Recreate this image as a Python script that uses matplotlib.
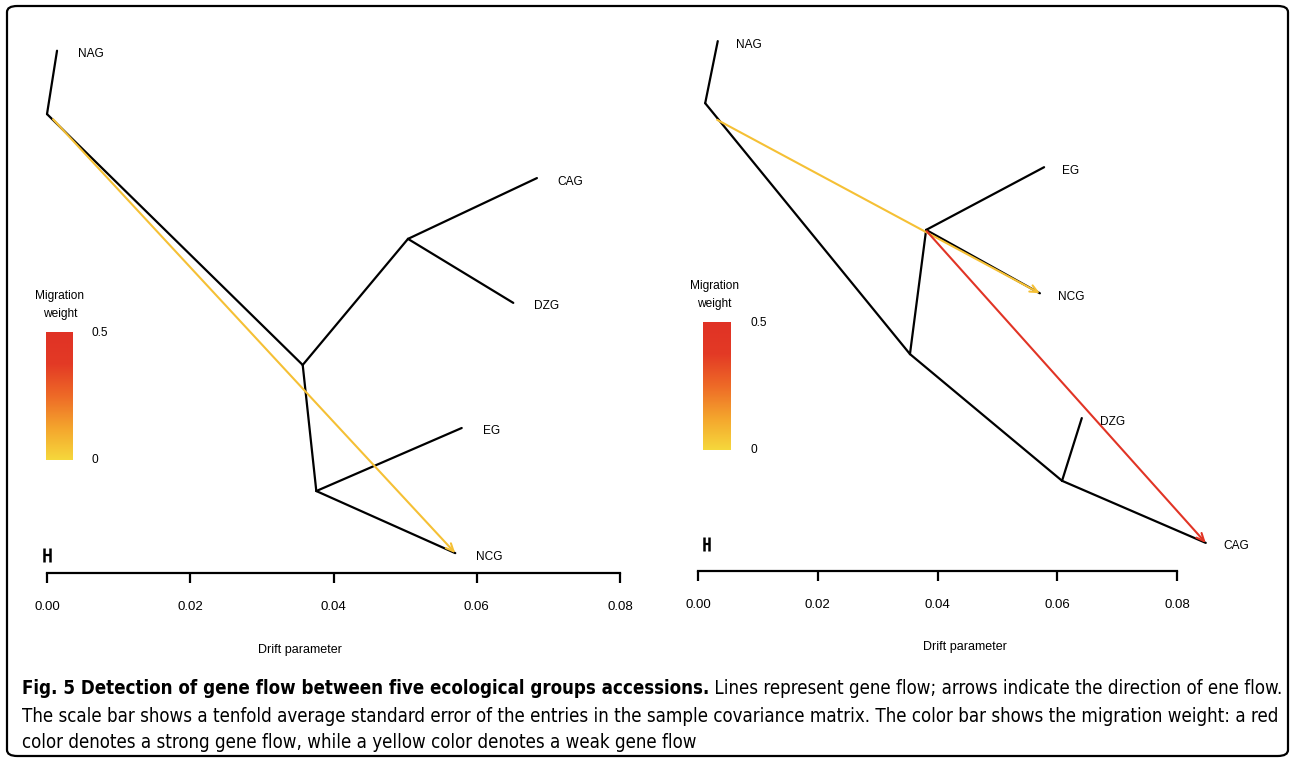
import matplotlib
matplotlib.use("Agg")
import matplotlib.pyplot as plt
from matplotlib import font_manager
from matplotlib.font_manager import FontProperties
from matplotlib.colors import LinearSegmentedColormap
from matplotlib.patches import FancyBboxPatch
import numpy as np

""" Data read off the figure (x = drift parameter, y = vertical tree position 0..1)"""
# left tree
left_names = ["root", "NAG", "A", "B", "CAG", "DZG", "C", "EG", "NCG"]
left_x = [0.0, 0.0014, 0.0357, 0.0504, 0.0684, 0.0651, 0.0376, 0.0579, 0.0570]
left_y = [0.853, 0.952, 0.461, 0.658, 0.753, 0.558, 0.264, 0.3625, 0.167]
left_edges = [("root", "NAG"), ("root", "A"), ("A", "B"), ("B", "CAG"),
              ("B", "DZG"), ("A", "C"), ("C", "EG"), ("C", "NCG")]
left_tips = ["NAG", "CAG", "DZG", "EG", "NCG"]
left_mig_from = [(0.00084, 0.845)]
left_mig_to = ["NCG"]
left_mig_weight = [0.06]

# right tree
right_names = ["root", "NAG", "A", "B", "EG", "NCG", "C", "DZG", "CAG"]
right_x = [0.0012, 0.0033, 0.0354, 0.0381, 0.0578, 0.0571, 0.0608, 0.0641, 0.0848]
right_y = [0.870, 0.967, 0.478, 0.672, 0.770, 0.573, 0.280, 0.378, 0.183]
right_edges = [("root", "NAG"), ("root", "A"), ("A", "B"), ("B", "EG"),
               ("B", "NCG"), ("A", "C"), ("C", "DZG"), ("C", "CAG")]
right_tips = ["NAG", "EG", "NCG", "DZG", "CAG"]
right_mig_from = [(0.0032, 0.844), (0.0382, 0.670)]
right_mig_to = ["NCG", "CAG"]
right_mig_weight = [0.06, 0.47]

drift_ticks = [0.00, 0.02, 0.04, 0.06, 0.08]
weight_ticks = [0, 0.5]
heat_colors = ["#F6D83C", "#F4A52D", "#EE6A27", "#E33A25", "#E03225"]

caption_bold = "Fig. 5 Detection of gene flow between five ecological groups accessions."
caption_rest = " Lines represent gene flow; arrows indicate the direction of ene flow."
caption_line2 = ("The scale bar shows a tenfold average standard error of the entries in the "
                 "sample covariance matrix. The color bar shows the migration weight: a red")
caption_line3 = "color denotes a strong gene flow, while a yellow color denotes a weak gene flow"

W, H = 1292, 762
LAB = "Liberation Sans"


def caption_fonts():
    """ Look for a narrow / condensed face for the caption"""
    files = {f.fname.split("/")[-1]: f.fname for f in font_manager.fontManager.ttflist}
    for reg, bold in [("LiberationSansNarrow-Regular.ttf", "LiberationSansNarrow-Bold.ttf"),
                      ("DejaVuSansCondensed.ttf", "DejaVuSansCondensed-Bold.ttf")]:
        if reg in files and bold in files:
            return FontProperties(fname=files[reg]), FontProperties(fname=files[bold])
    return (FontProperties(family="DejaVu Sans"),
            FontProperties(family="DejaVu Sans", weight="bold"))


def draw_tree(ax, names, xs, ys, edges, tips, mig_from, mig_to, mig_w, cmap, lab_dx,
              axis_y, cbar_box, cbar_lab, scale_pos, scale_half, drift_lab):
    pos = {n: (x, y) for n, x, y in zip(names, xs, ys)}
    for a, b in edges:
        ax.plot([pos[a][0], pos[b][0]], [pos[a][1], pos[b][1]], color="k", lw=1.6,
                solid_capstyle="round", zorder=2, clip_on=False)
    for t in tips:
        ax.annotate(t, pos[t], xytext=(lab_dx, -2.5), textcoords="offset points",
                    ha="left", va="center", fontsize=8.6, family=LAB,
                    annotation_clip=False)
    for (sx, sy), t, w in zip(mig_from, mig_to, mig_w):
        ax.annotate("", xy=pos[t], xytext=(sx, sy),
                    arrowprops=dict(arrowstyle="->,head_length=0.55,head_width=0.25",
                                    color=cmap(w / 0.5), lw=1.5, shrinkA=0, shrinkB=0),
                    zorder=3, annotation_clip=False)

    # colour bar
    x0, x1, y0, y1 = cbar_box
    grad = np.linspace(0, 1, 256).reshape(-1, 1)
    ax.imshow(grad, extent=(x0, x1, y0, y1), origin="lower", cmap=cmap, aspect="auto",
              zorder=1, clip_on=False)
    cx, ty = cbar_lab
    ax.text(cx, ty, "Migration", ha="center", va="center", fontsize=8.6, family=LAB)
    ax.text(cx, ty - 0.028, "weight", ha="center", va="center", fontsize=8.6, family=LAB)
    for v, yy in zip(weight_ticks, [y0, y1]):
        ax.text(x1 + (x1 - x0) * 0.75, yy, "0.5" if v else "0", ha="left", va="center",
                fontsize=8.6, family=LAB)

    # scale bar
    ax.errorbar(scale_pos[0], scale_pos[1], xerr=scale_half, color="k", lw=1.6,
                capsize=5, capthick=1.8, clip_on=False)

    # drift axis
    ax.set_xlim(0, 0.08)
    ax.set_ylim(0, 1)
    for s in ["top", "right", "left"]:
        ax.spines[s].set_visible(False)
    ax.spines["bottom"].set_position(("data", axis_y))
    ax.spines["bottom"].set_bounds(0, 0.08)
    ax.spines["bottom"].set_linewidth(1.6)
    ax.set_xticks(drift_ticks)
    ax.set_xticklabels([f"{v:.2f}" for v in drift_ticks], family=LAB)
    ax.tick_params(axis="x", length=7, width=1.6, pad=13, labelsize=9.5)
    ax.set_yticks([])
    ax.text(drift_lab[0], drift_lab[1], "Drift parameter", ha="center", va="center",
            fontsize=9, family=LAB)
    ax.patch.set_visible(False)


def main():
    fig = plt.figure(figsize=(W / 100, H / 100), dpi=100)
    cmap = LinearSegmentedColormap.from_list("heat", heat_colors)

    # rounded frame
    fig.patches.append(FancyBboxPatch((7 / W, 6 / H), (1281 / W), (750 / H),
                                      boxstyle="round,pad=0,rounding_size=0.008",
                                      transform=fig.transFigure, fill=False, lw=1.6,
                                      ec="k"))

    bottom, height = (H - 660) / H, 640 / H
    ax_l = fig.add_axes([47 / W, bottom, 573 / W, height])
    ax_r = fig.add_axes([698 / W, bottom, 479 / W, height])

    draw_tree(ax_l, left_names, left_x, left_y, left_edges, left_tips, left_mig_from,
              left_mig_to, left_mig_weight, cmap, 15, 0.136,
              (-0.00014, 0.0035, 0.3125, 0.511), (0.0018, 0.569), (0.0, 0.164), 0.00035,
              (0.0353, 0.016))
    draw_tree(ax_r, right_names, right_x, right_y, right_edges, right_tips, right_mig_from,
              right_mig_to, right_mig_weight, cmap, 13, 0.139,
              (0.00084, 0.0054, 0.328, 0.527), (0.0028, 0.584), (0.00134, 0.181), 0.00042,
              (0.0446, 0.020))

    # caption
    fp_reg, fp_bold = caption_fonts()
    fig.canvas.draw()
    r = fig.canvas.get_renderer()
    x0 = 22 / W
    probe_b = fig.text(0, 0, caption_bold, fontproperties=fp_bold, fontsize=10)
    probe_n = fig.text(0, 0, caption_rest, fontproperties=fp_reg, fontsize=10)
    wsum = probe_b.get_window_extent(r).width + probe_n.get_window_extent(r).width
    probe_b.remove()
    probe_n.remove()
    fs = 10 * 1265 / wsum

    tb = fig.text(x0, 1 - 694 / H, caption_bold, fontproperties=fp_bold, fontsize=fs,
                  va="baseline")
    wb = tb.get_window_extent(r).width
    fig.text(x0 + wb / W, 1 - 694 / H, caption_rest, fontproperties=fp_reg, fontsize=fs,
             va="baseline")
    fig.text(x0, 1 - 722 / H, caption_line2, fontproperties=fp_reg, fontsize=fs,
             va="baseline")
    fig.text(x0, 1 - 748 / H, caption_line3, fontproperties=fp_reg, fontsize=fs,
             va="baseline")

    fig.savefig("out.png", dpi=100)


if __name__ == '__main__':
    main()
